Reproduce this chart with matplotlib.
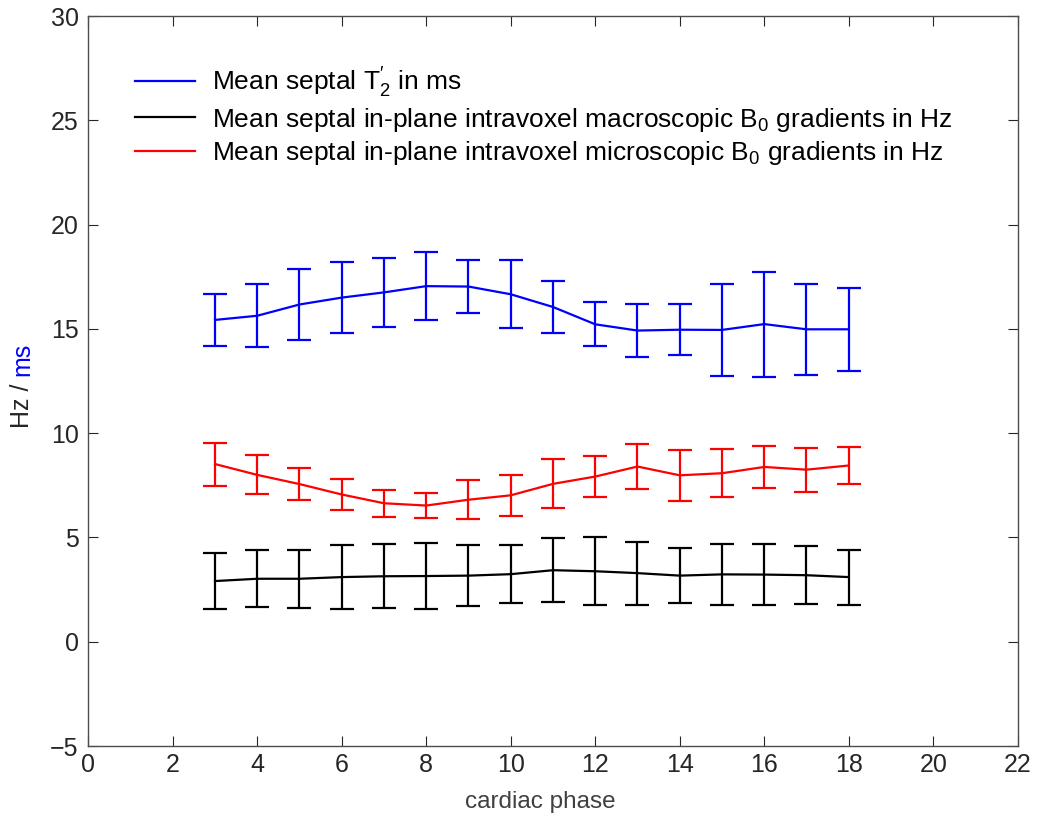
import numpy as np
import matplotlib
matplotlib.use("Agg")
import matplotlib.pyplot as plt

plt.rcParams['font.family'] = ['Liberation Sans', 'DejaVu Sans']
plt.rcParams['mathtext.default'] = 'regular'

# cardiac phases and per-phase septal means / standard deviations
phases = np.arange(3, 19)

t2_mean = [15.43, 15.63, 16.17, 16.50, 16.75, 17.05, 17.03, 16.66,
           16.05, 15.22, 14.92, 14.96, 14.95, 15.23, 14.98, 14.98]
t2_sd = [1.26, 1.50, 1.69, 1.71, 1.66, 1.64, 1.28, 1.64,
         1.26, 1.05, 1.28, 1.23, 2.20, 2.52, 2.18, 2.00]

macro_mean = [2.91, 3.02, 3.02, 3.10, 3.14, 3.15, 3.17, 3.24,
              3.43, 3.38, 3.29, 3.17, 3.23, 3.22, 3.19, 3.10]
macro_sd = [1.34, 1.37, 1.40, 1.54, 1.53, 1.58, 1.48, 1.40,
            1.54, 1.62, 1.51, 1.32, 1.47, 1.46, 1.40, 1.32]

micro_mean = [8.52, 8.00, 7.56, 7.06, 6.64, 6.53, 6.81, 7.02,
              7.57, 7.92, 8.40, 7.98, 8.08, 8.38, 8.25, 8.45]
micro_sd = [1.03, 0.93, 0.76, 0.75, 0.64, 0.62, 0.93, 0.99,
            1.18, 0.99, 1.08, 1.22, 1.16, 1.00, 1.05, 0.89]

labels = [
    "Mean septal $T_2^{\\prime}$ in ms",
    "Mean septal in-plane intravoxel macroscopic B$_0$ gradients in Hz",
    "Mean septal in-plane intravoxel microscopic B$_0$ gradients in Hz",
]

x_ticks = list(range(0, 23, 2))
y_ticks = list(range(-5, 31, 5))

FS = 18
LEG_FS = 19
AX_COLOR = '#262626'


def main():
    fig = plt.figure(figsize=(10.42, 8.14), dpi=100)
    ax = fig.add_axes([0.0847, 0.0835, 0.892, 0.8968])

    series = [
        (t2_mean, t2_sd, (0, 0, 1)),
        (macro_mean, macro_sd, (0, 0, 0)),
        (micro_mean, micro_sd, (1, 0, 0)),
    ]
    handles = []
    for mean, sd, color in series:
        c = ax.errorbar(phases, mean, yerr=sd, color=color, lw=1.6,
                        elinewidth=1.6, capsize=8.5, capthick=1.6)
        handles.append(c[0])

    ax.set_xlim(0, 22)
    ax.set_ylim(-5, 30)
    ax.set_xticks(x_ticks)
    ax.set_yticks(y_ticks)
    ax.tick_params(direction='in', length=7, width=0.8, colors=AX_COLOR,
                   labelsize=FS, top=True, right=True)
    ax.tick_params(axis='x', pad=5)
    ax.tick_params(axis='y', pad=7)
    for sp in ax.spines.values():
        sp.set_color('0.3')
        sp.set_linewidth(1.0)

    ax.set_xlabel("cardiac phase", fontsize=17.5, color='#404040')
    ax.xaxis.set_label_coords(0.486, -0.061)

    ax.legend(handles, labels, loc='upper left',
              bbox_to_anchor=(0.050, 0.932), frameon=False,
              fontsize=LEG_FS, handlelength=2.27, handletextpad=0.64,
              labelspacing=0.22, borderaxespad=0, borderpad=0)

    # two-coloured y label built from rotated pieces
    fig.canvas.draw()
    t1 = fig.text(0.0211, (814 - 428) / 814, "Hz / ", rotation=90,
                  rotation_mode='anchor', ha='left', va='center',
                  fontsize=FS, color=AX_COLOR)
    fig.canvas.draw()
    bb = t1.get_window_extent()
    fig.text(0.0211, bb.y1 / fig.bbox.height, "ms", rotation=90,
             rotation_mode='anchor', ha='left', va='center',
             fontsize=FS, color=(0, 0, 1))

    fig.savefig("out.png", dpi=100)
    plt.close(fig)


if __name__ == "__main__":
    main()
